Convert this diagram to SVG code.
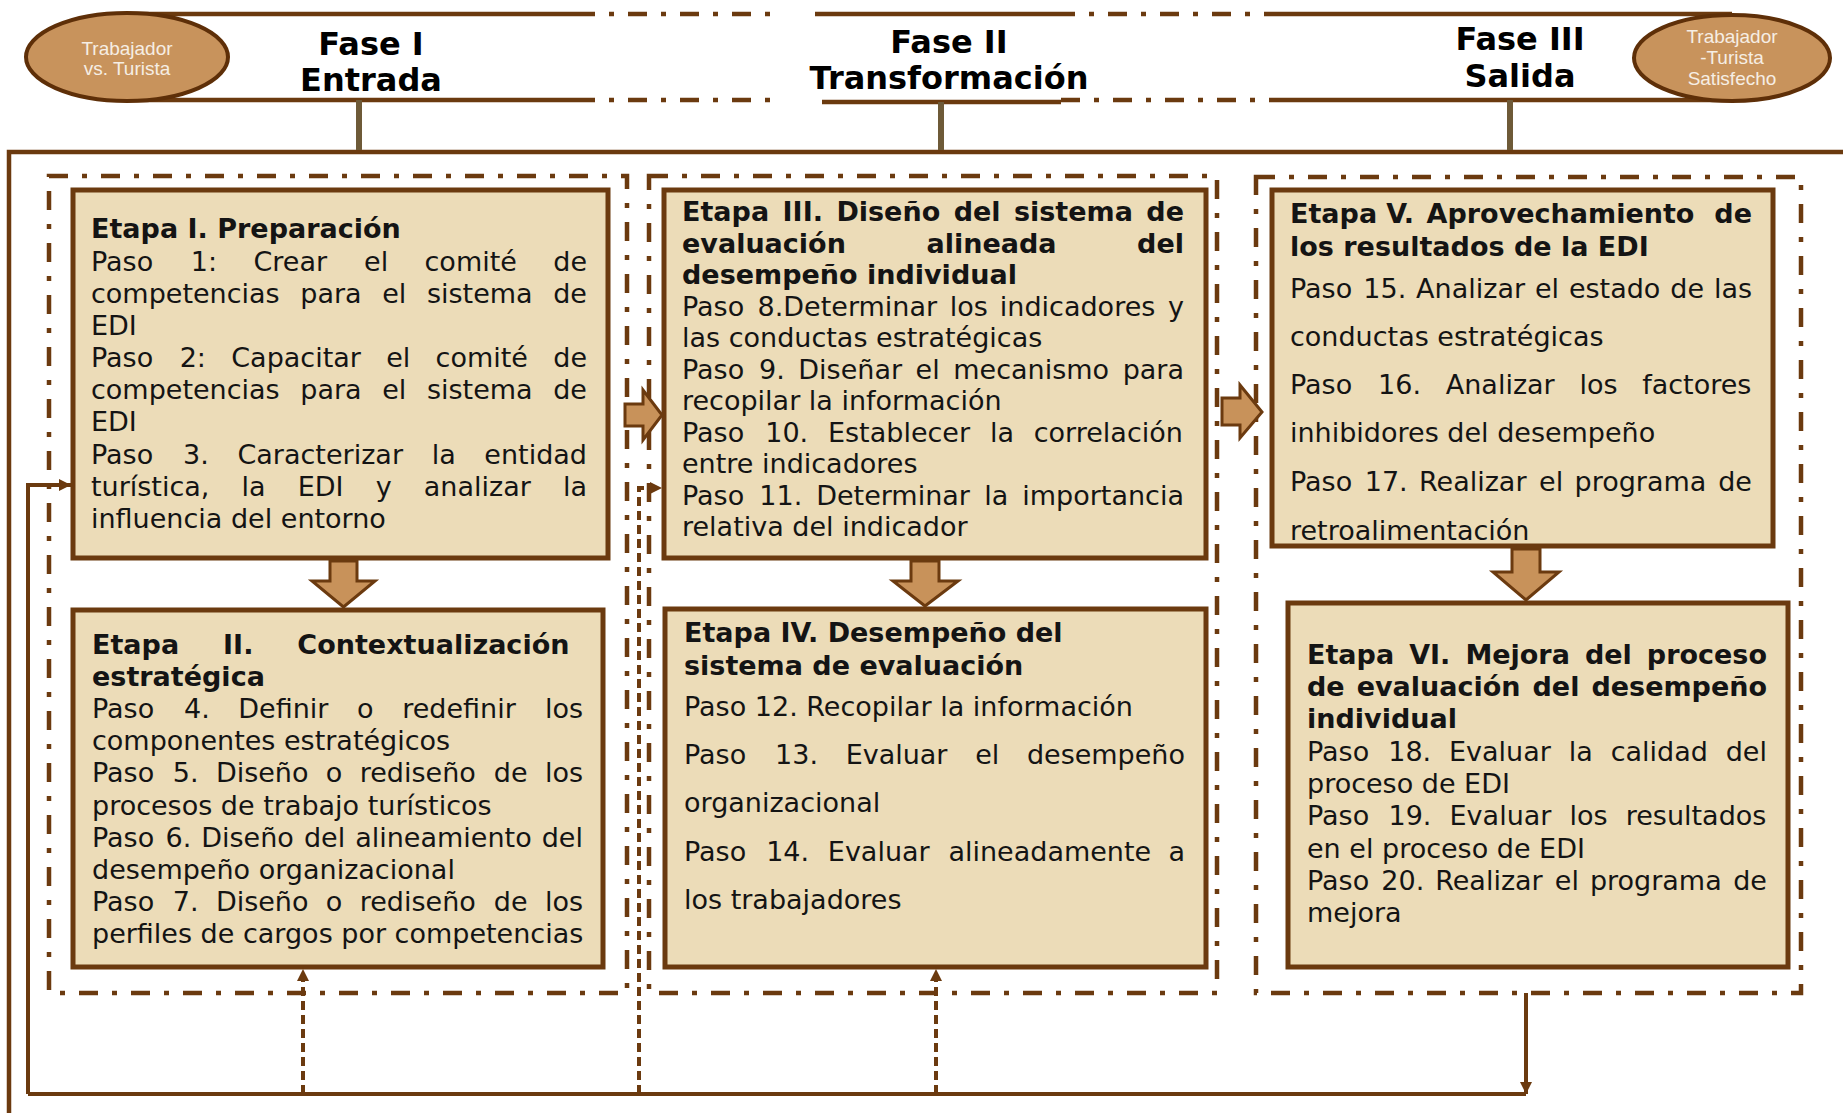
<svg xmlns="http://www.w3.org/2000/svg" width="1843" height="1113" viewBox="0 0 1843 1113">
<style>
.box{fill:#ecdcb8;stroke:#6b3a0f;stroke-width:5}
.dd{fill:none;stroke:#6b3a0f;stroke-width:4.5;stroke-dasharray:19 14 5 14}
.ln{fill:none;stroke:#6b3a0f;stroke-width:4.5}
.fb{fill:none;stroke:#6b3a0f;stroke-width:4}
.fbd{fill:none;stroke:#6b3a0f;stroke-width:4;stroke-dasharray:9 5}
.vc{fill:none;stroke:#6e5a38;stroke-width:6}
.blk{fill:#c8925a;stroke:#6b3a0f;stroke-width:3;stroke-linejoin:miter}
.ell{fill:#c8935c;stroke:#5e2f08;stroke-width:4}
.et{font-family:"Liberation Sans",Arial,sans-serif;font-size:19px;fill:#f6eee4;text-anchor:middle}
.ph{font-family:"DejaVu Sans",Verdana,sans-serif;font-size:32px;font-weight:bold;fill:#000;text-anchor:middle}
.t{font-family:"DejaVu Sans",Verdana,sans-serif;font-size:27px;fill:#141414}
.b{font-weight:bold}
</style>
<defs>
<marker id="ah" viewBox="0 0 10 10" refX="10" refY="5" markerWidth="13" markerHeight="12" markerUnits="userSpaceOnUse" orient="auto">
<path d="M0,0 L10,5 L0,10 Z" fill="#6b3a0f"/>
</marker>
</defs>
<rect width="1843" height="1113" fill="#ffffff"/>

<!-- outer frame -->
<path class="ln" d="M9,1113 V152 H1845"/>

<!-- header band lines -->
<g id="header-band">
<path class="ln" d="M127,14 H576 M815,14 H1056 M1279,14 H1732"/>
<path class="dd" d="M576,14 H784 M1056,14 H1279"/>
<path class="ln" d="M127,100 H576 M822,102 H1061 M1279,100 H1732"/>
<path class="dd" d="M576,100 H784 M1061,100 H1279"/>
</g>

<g id="node-trabajador-turista">
<ellipse class="ell" cx="127" cy="57" rx="101" ry="44"/>
<text class="et" x="127" y="55">Trabajador</text>
<text class="et" x="127" y="75">vs. Turista</text>
</g>
<g id="node-satisfecho">
<ellipse class="ell" cx="1732" cy="58" rx="98" ry="43"/>
<text class="et" x="1732" y="43">Trabajador</text>
<text class="et" x="1732" y="64">-Turista</text>
<text class="et" x="1732" y="85">Satisfecho</text>
</g>

<g id="fase-1">
<text class="ph" x="371" y="55">Fase I</text>
<text class="ph" x="371" y="91">Entrada</text>
</g>
<g id="fase-2">
<text class="ph" x="949" y="53">Fase II</text>
<text class="ph" x="949" y="89">Transformación</text>
</g>
<g id="fase-3">
<text class="ph" x="1520" y="50">Fase III</text>
<text class="ph" x="1520" y="87">Salida</text>
</g>

<!-- phase groups (dash-dot) -->
<g id="grupo-fase-1"><rect class="dd" x="49" y="176" width="578" height="817"/></g>
<g id="grupo-fase-2"><rect class="dd" x="649" y="176" width="568" height="817"/></g>
<g id="grupo-fase-3"><rect class="dd" x="1256" y="177" width="545" height="816"/></g>

<g id="connectors">
<path class="vc" d="M359,100 V150 M941,102 V150 M1510,100 V150"/>
<path class="fb" d="M1526,1094 H28"/>
<path class="fb" d="M28,1094 V485 H71" marker-end="url(#ah)"/>
<path class="fb" d="M1526,993 V1094" marker-end="url(#ah)"/>
<path class="fbd" d="M639,1094 V488 H662" marker-end="url(#ah)"/>
<path class="fbd" d="M303,1094 V969" marker-end="url(#ah)"/>
<path class="fbd" d="M936,1094 V969" marker-end="url(#ah)"/>
<path class="blk" d="M330,561 H357 V581 H375 L343.5,607 L312,581 H330 Z"/>
<path class="blk" d="M911,561 H939 V581 H958 L925,606 L893,581 H911 Z"/>
<path class="blk" d="M1512,549 H1540 V572 H1559 L1526,600 L1493,572 H1512 Z"/>
<path class="blk" d="M625,404 H643 V390 L662,415 L643,440 V426 H625 Z"/>
<path class="blk" d="M1222,398 H1240 V385 L1262,412 L1240,438 V425 H1222 Z"/>
</g>

<g id="etapa-1">
<rect class="box" x="73" y="190" width="535" height="368"/>
<text class="t b" x="91" y="238">Etapa I. Preparación</text>
<text class="t" y="271"><tspan x="91">Paso</tspan><tspan x="190.8">1:</tspan><tspan x="253.45">Crear</tspan><tspan x="364.03">el</tspan><tspan x="424.52">comité</tspan><tspan x="553.27">de</tspan></text>
<text class="t" y="303"><tspan x="91">competencias</tspan><tspan x="300.3">para</tspan><tspan x="382.24">el</tspan><tspan x="426.95">sistema</tspan><tspan x="553.23">de</tspan></text>
<text class="t" x="91" y="335">EDI</text>
<text class="t" y="367"><tspan x="91">Paso</tspan><tspan x="179.7">2:</tspan><tspan x="231.25">Capacitar</tspan><tspan x="386.21">el</tspan><tspan x="435.6">comité</tspan><tspan x="553.25">de</tspan></text>
<text class="t" y="399"><tspan x="91">competencias</tspan><tspan x="300.3">para</tspan><tspan x="382.24">el</tspan><tspan x="426.95">sistema</tspan><tspan x="553.23">de</tspan></text>
<text class="t" x="91" y="431">EDI</text>
<text class="t" y="464"><tspan x="91">Paso</tspan><tspan x="183.07">3.</tspan><tspan x="237.48">Caracterizar</tspan><tspan x="431.64">la</tspan><tspan x="484.35">entidad</tspan></text>
<text class="t" y="496"><tspan x="91">turística,</tspan><tspan x="241.56">la</tspan><tspan x="297.73">EDI</tspan><tspan x="375.66">y</tspan><tspan x="423.75">analizar</tspan><tspan x="562.92">la</tspan></text>
<text class="t" x="91" y="528">influencia del entorno</text>
</g>

<g id="etapa-2">
<rect class="box" x="73" y="610" width="530" height="357"/>
<text class="t b" y="654"><tspan x="92">Etapa</tspan><tspan x="223.08">II.</tspan><tspan x="297.37">Contextualización</tspan></text>
<text class="t b" x="92" y="686">estratégica</text>
<text class="t" y="718"><tspan x="92">Paso</tspan><tspan x="184">4.</tspan><tspan x="238.34">Definir</tspan><tspan x="357.05">o</tspan><tspan x="402.15">redefinir</tspan><tspan x="544.91">los</tspan></text>
<text class="t" x="92" y="750">componentes estratégicos</text>
<text class="t" y="782"><tspan x="92">Paso</tspan><tspan x="172.78">5.</tspan><tspan x="215.9">Diseño</tspan><tspan x="325.87">o</tspan><tspan x="359.75">rediseño</tspan><tspan x="493.78">de</tspan><tspan x="544.89">los</tspan></text>
<text class="t" x="92" y="815">procesos de trabajo turísticos</text>
<text class="t" y="847"><tspan x="92">Paso</tspan><tspan x="165.46">6.</tspan><tspan x="201.26">Diseño</tspan><tspan x="303.91">del</tspan><tspan x="355.21">alineamiento</tspan><tspan x="541.72">del</tspan></text>
<text class="t" x="92" y="879">desempeño organizacional</text>
<text class="t" y="911"><tspan x="92">Paso</tspan><tspan x="172.78">7.</tspan><tspan x="215.9">Diseño</tspan><tspan x="325.87">o</tspan><tspan x="359.75">rediseño</tspan><tspan x="493.78">de</tspan><tspan x="544.89">los</tspan></text>
<text class="t" x="92" y="943">perfiles de cargos por competencias</text>
</g>

<g id="etapa-3">
<rect class="box" x="664" y="190" width="542" height="368"/>
<text class="t b" y="221"><tspan x="682">Etapa</tspan><tspan x="782.56">III.</tspan><tspan x="836.38">Diseño</tspan><tspan x="953.63">del</tspan><tspan x="1013.96">sistema</tspan><tspan x="1146.35">de</tspan></text>
<text class="t b" y="252.5"><tspan x="682">evaluación</tspan><tspan x="926.47">alineada</tspan><tspan x="1137.1">del</tspan></text>
<text class="t b" x="682" y="284">desempeño individual</text>
<text class="t" y="315.5"><tspan x="682">Paso</tspan><tspan x="757.52">8.Determinar</tspan><tspan x="949.63">los</tspan><tspan x="999.83">indicadores</tspan><tspan x="1168.04">y</tspan></text>
<text class="t" x="682" y="347">las conductas estratégicas</text>
<text class="t" y="378.5"><tspan x="682">Paso</tspan><tspan x="759">9.</tspan><tspan x="798.32">Diseñar</tspan><tspan x="915.61">el</tspan><tspan x="953.28">mecanismo</tspan><tspan x="1122.66">para</tspan></text>
<text class="t" x="682" y="410">recopilar la información</text>
<text class="t" y="441.5"><tspan x="682">Paso</tspan><tspan x="765.24">10.</tspan><tspan x="827.99">Establecer</tspan><tspan x="989.88">la</tspan><tspan x="1033.76">correlación</tspan></text>
<text class="t" x="682" y="473">entre indicadores</text>
<text class="t" y="504.5"><tspan x="682">Paso</tspan><tspan x="759.32">11.</tspan><tspan x="816.15">Determinar</tspan><tspan x="984.3">la</tspan><tspan x="1022.26">importancia</tspan></text>
<text class="t" x="682" y="536">relativa del indicador</text>
</g>

<g id="etapa-4">
<rect class="box" x="665" y="609" width="541" height="358"/>
<text class="t b" x="684" y="642">Etapa IV. Desempeño del</text>
<text class="t b" x="684" y="675">sistema de evaluación</text>
<text class="t" x="684" y="716">Paso 12. Recopilar la información</text>
<text class="t" y="764"><tspan x="684">Paso</tspan><tspan x="775.06">13.</tspan><tspan x="845.63">Evaluar</tspan><tspan x="975.14">el</tspan><tspan x="1026.89">desempeño</tspan></text>
<text class="t" x="684" y="812">organizacional</text>
<text class="t" y="861"><tspan x="684">Paso</tspan><tspan x="766.16">14.</tspan><tspan x="827.83">Evaluar</tspan><tspan x="948.44">alineadamente</tspan><tspan x="1168.47">a</tspan></text>
<text class="t" x="684" y="909">los trabajadores</text>
</g>

<g id="etapa-5">
<rect class="box" x="1272" y="190" width="501" height="356"/>
<text class="t b" y="223"><tspan x="1290">Etapa</tspan><tspan x="1386.27">V.</tspan><tspan x="1426.57">Aprovechamiento</tspan><tspan x="1714.36">de</tspan></text>
<text class="t b" x="1290" y="256">los resultados de la EDI</text>
<text class="t" y="298"><tspan x="1290">Paso</tspan><tspan x="1363.29">15.</tspan><tspan x="1416.09">Analizar</tspan><tspan x="1534.93">el</tspan><tspan x="1568.91">estado</tspan><tspan x="1670.26">de</tspan><tspan x="1713.88">las</tspan></text>
<text class="t" x="1290" y="346">conductas estratégicas</text>
<text class="t" y="394"><tspan x="1290">Paso</tspan><tspan x="1378.12">16.</tspan><tspan x="1445.75">Analizar</tspan><tspan x="1579.42">los</tspan><tspan x="1642.22">factores</tspan></text>
<text class="t" x="1290" y="442">inhibidores del desempeño</text>
<text class="t" y="491"><tspan x="1290">Paso</tspan><tspan x="1364.74">17.</tspan><tspan x="1418.99">Realizar</tspan><tspan x="1539.07">el</tspan><tspan x="1574.5">programa</tspan><tspan x="1718.23">de</tspan></text>
<text class="t" x="1290" y="540">retroalimentación</text>
</g>

<g id="etapa-6">
<rect class="box" x="1288" y="603" width="500" height="364"/>
<text class="t b" y="664"><tspan x="1307">Etapa</tspan><tspan x="1409.16">VI.</tspan><tspan x="1465.39">Mejora</tspan><tspan x="1584.94">del</tspan><tspan x="1646.87">proceso</tspan></text>
<text class="t b" y="696"><tspan x="1307">de</tspan><tspan x="1356.65">evaluación</tspan><tspan x="1532.55">del</tspan><tspan x="1591.46">desempeño</tspan></text>
<text class="t b" x="1307" y="728">individual</text>
<text class="t" y="761"><tspan x="1307">Paso</tspan><tspan x="1388.26">18.</tspan><tspan x="1449.03">Evaluar</tspan><tspan x="1568.74">la</tspan><tspan x="1610.64">calidad</tspan><tspan x="1725.73">del</tspan></text>
<text class="t" x="1307" y="793">proceso de EDI</text>
<text class="t" y="825"><tspan x="1307">Paso</tspan><tspan x="1388.52">19.</tspan><tspan x="1449.55">Evaluar</tspan><tspan x="1569.52">los</tspan><tspan x="1625.72">resultados</tspan></text>
<text class="t" x="1307" y="858">en el proceso de EDI</text>
<text class="t" y="890"><tspan x="1307">Paso</tspan><tspan x="1381.34">20.</tspan><tspan x="1435.19">Realizar</tspan><tspan x="1554.87">el</tspan><tspan x="1589.9">programa</tspan><tspan x="1733.23">de</tspan></text>
<text class="t" x="1307" y="922">mejora</text>
</g>
</svg>
